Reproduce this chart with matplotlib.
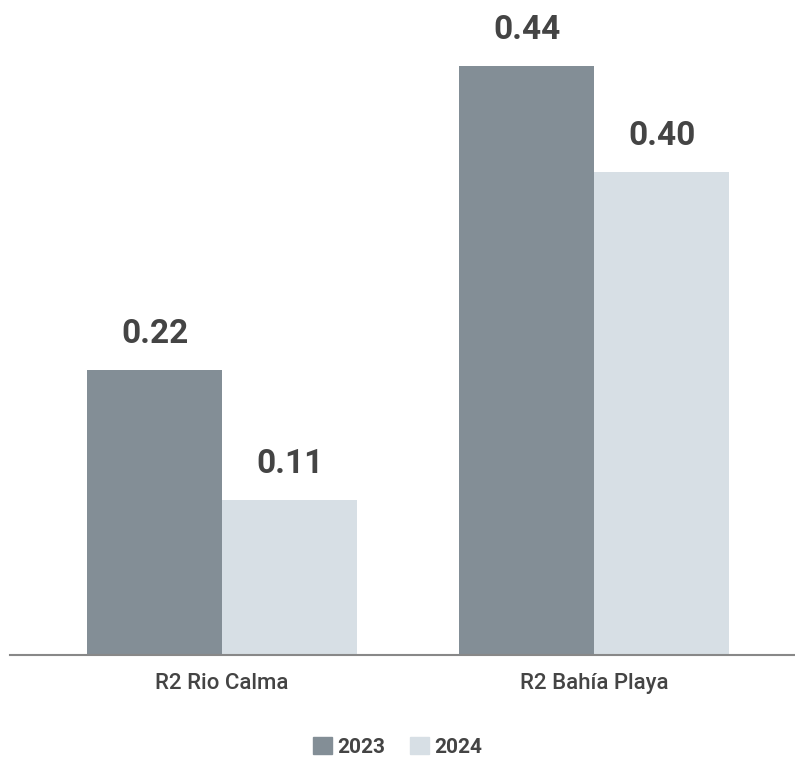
import numpy as np
import matplotlib.pyplot as plt
from matplotlib.patches import Patch

categories = ["R2 Rio Calma", "R2 Bahía Playa"]
series_names = ["2023", "2024"]
values_2023 = [0.213, 0.44]
values_2024 = [0.116, 0.361]
labels_2023 = ["0.22", "0.44"]
labels_2024 = ["0.11", "0.40"]

colors = ["#838e96", "#d7dfe5"]
text_color = "#444444"

plt.rcParams["font.family"] = ["Roboto", "DejaVu Sans"]

fig = plt.figure(figsize=(7.95, 7.57), dpi=100)
ax = fig.add_axes([10 / 795, 102 / 757, 785 / 795, 655 / 757])

x = np.arange(len(categories))
w = 0.363
b1 = ax.bar(x - w / 2, values_2023, w, color=colors[0])
b2 = ax.bar(x + w / 2, values_2024, w, color=colors[1])

for bars, labels in [(b1, labels_2023), (b2, labels_2024)]:
    for rect, lab in zip(bars, labels):
        ax.annotate(lab, (rect.get_x() + rect.get_width() / 2, rect.get_height()),
                    xytext=(0, 36), textcoords="offset pixels", ha="center", va="center",
                    fontsize=24, fontweight="bold", color=text_color)

ax.set_xlim(-0.57, 1.54)
ax.set_ylim(0, 0.4893)
ax.set_xticks(x)
ax.set_xticklabels(categories, fontsize=16, fontweight="medium", color=text_color)
ax.tick_params(axis="x", length=0, pad=13)
ax.set_yticks([])
for s in ["top", "right", "left"]:
    ax.spines[s].set_visible(False)
ax.spines["bottom"].set_color("#888888")
ax.spines["bottom"].set_linewidth(1.5)

handles = [Patch(color=c) for c in colors]
leg = fig.legend(handles, series_names, loc="center", bbox_to_anchor=(0.5, 1 - 747 / 757),
                 ncol=2, frameon=False, handlelength=0.9, handleheight=0.9,
                 handletextpad=0.25, columnspacing=1.2, prop={"size": 15, "weight": "bold"})
for t in leg.get_texts():
    t.set_color(text_color)

fig.savefig("out.png", dpi=100)
